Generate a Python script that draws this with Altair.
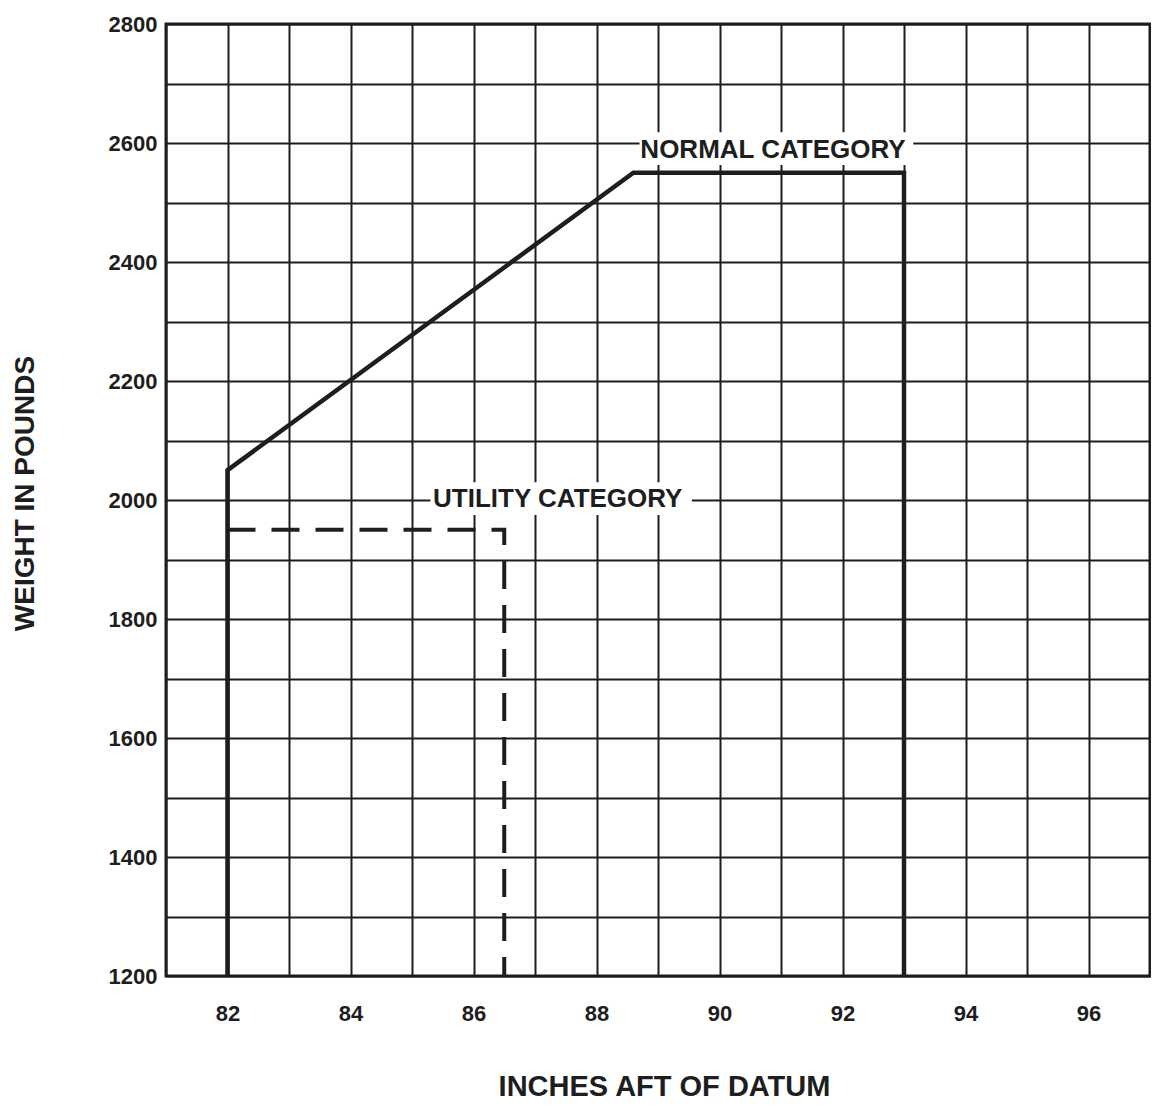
import altair as alt
import pandas as pd

# Normal category envelope (solid)
normal_x = [82.0, 82.0, 88.6, 93.0, 93.0]
normal_y = [1200, 2050, 2550, 2550, 1200]

# Utility category envelope (dashed)
utility_x = [82.0, 86.5, 86.5]
utility_y = [1950, 1950, 1200]

# Axis ticks
x_grid = list(range(81, 98))
y_grid = list(range(1200, 2801, 100))

# Category labels
label_text = ["NORMAL CATEGORY", "UTILITY CATEGORY"]
label_x = [90.87, 87.37]
label_y = [2588, 2002]
box_x1 = [88.7, 85.3]
box_x2 = [93.15, 89.55]
box_y1 = [2563, 1975]
box_y2 = [2618, 2030]

INK = "#1e1e1e"
FONT = "Liberation Sans"

normal_df = pd.DataFrame({"x": normal_x, "y": normal_y, "i": range(len(normal_x))})
utility_df = pd.DataFrame({"x": utility_x, "y": utility_y, "i": range(len(utility_x))})
labels_df = pd.DataFrame({"t": label_text, "x": label_x, "y": label_y,
                          "x1": box_x1, "x2": box_x2, "y1": box_y1, "y2": box_y2})

xscale = alt.Scale(domain=[81, 97], nice=False, zero=False)
yscale = alt.Scale(domain=[1200, 2800], nice=False, zero=False)

xaxis = alt.Axis(
    values=x_grid,
    format="d",
    labelExpr="datum.value % 2 == 0 ? datum.label : ''",
    title="INCHES AFT OF DATUM",
    grid=True, gridColor=INK, gridWidth=2, gridOpacity=1,
    ticks=False, tickSize=0, domain=False,
    labelFont=FONT, labelFontWeight="bold", labelFontSize=22, labelColor=INK,
    labelBaseline="middle", labelPadding=37,
    titleFont=FONT, titleFontWeight="bold", titleFontSize=29, titleColor=INK,
    titleX=498, titleY=110, titleBaseline="middle", titleAlign="center",
)
yaxis = alt.Axis(
    values=y_grid,
    labelExpr="datum.value % 200 == 0 ? datum.label : ''",
    format="d",
    title="WEIGHT IN POUNDS",
    grid=True, gridColor=INK, gridWidth=2, gridOpacity=1,
    ticks=False, tickSize=0, domain=False,
    labelFont=FONT, labelFontWeight="bold", labelFontSize=22, labelColor=INK,
    labelPadding=9,
    titleFont=FONT, titleFontWeight="bold", titleFontSize=28, titleColor=INK,
    titleAngle=270, titleX=-141, titleY=469, titleBaseline="middle", titleAlign="center",
)

normal = alt.Chart(normal_df).mark_line(color=INK, strokeWidth=4.5, strokeCap="butt",
                                        strokeJoin="miter").encode(
    x=alt.X("x:Q", scale=xscale, axis=xaxis),
    y=alt.Y("y:Q", scale=yscale, axis=yaxis),
    order="i:Q",
)

utility = alt.Chart(utility_df).mark_line(color=INK, strokeWidth=4, strokeDash=[28, 16],
                                          strokeCap="butt").encode(
    x=alt.X("x:Q", scale=xscale),
    y=alt.Y("y:Q", scale=yscale),
    order="i:Q",
)

boxes = alt.Chart(labels_df).mark_rect(color="white").encode(
    x=alt.X("x1:Q", scale=xscale), x2="x2:Q",
    y=alt.Y("y1:Q", scale=yscale), y2="y2:Q",
)

texts = alt.Chart(labels_df).mark_text(font=FONT, fontWeight="bold", fontSize=26,
                                       color=INK, align="center", baseline="middle").encode(
    x=alt.X("x:Q", scale=xscale),
    y=alt.Y("y:Q", scale=yscale),
    text="t:N",
)

chart = alt.layer(boxes, texts, normal, utility).properties(
    width=984, height=952,
    autosize=alt.AutoSizeParams(type="none"),
    padding={"left": 158, "top": 16, "right": 1, "bottom": 130},
    background="white",
).configure_view(stroke=INK, strokeWidth=3)

chart.save("out.html", embed_options={"renderer": "svg", "actions": False})
